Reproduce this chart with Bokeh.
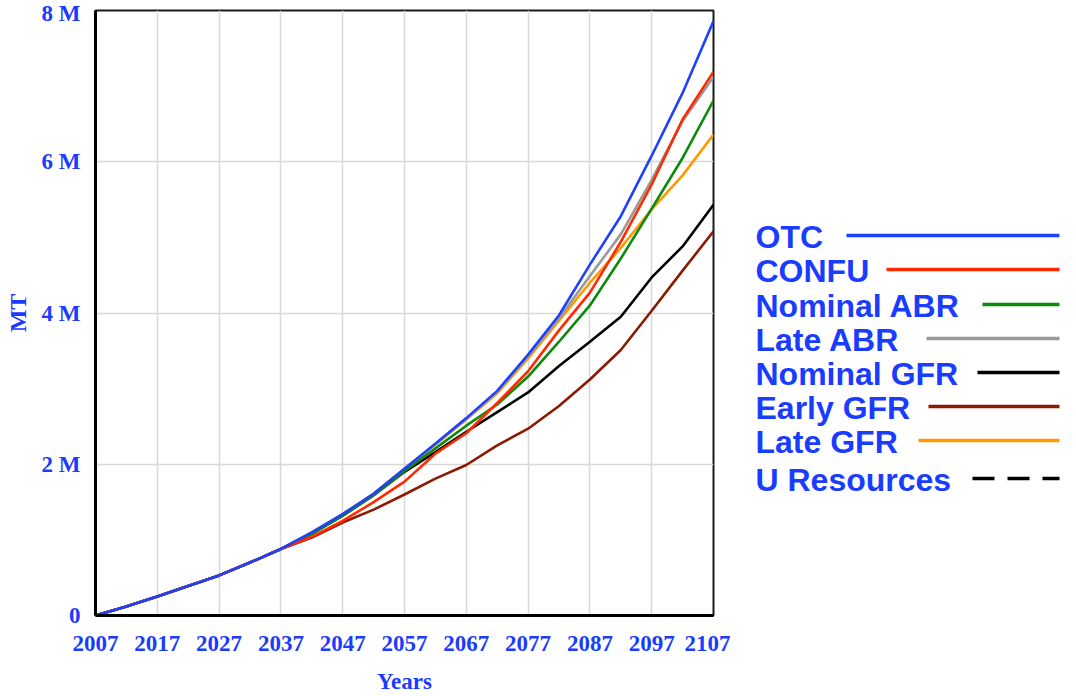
from bokeh.plotting import figure
from bokeh.layouts import row
from bokeh.models import Range1d, FixedTicker, ColumnDataSource
from bokeh.core.properties import value
from bokeh.embed import file_html
from bokeh.resources import INLINE

# Simulation years (5-year sampling)
years = [2007, 2012, 2017, 2022, 2027, 2032, 2037, 2042, 2047, 2052, 2057,
         2062, 2067, 2072, 2077, 2082, 2087, 2092, 2097, 2102, 2107]

# Cumulative quantities, millions of MT
otc = [0, 0.12, 0.25, 0.39, 0.53, 0.70, 0.88, 1.10, 1.34, 1.61, 1.94,
       2.27, 2.61, 2.97, 3.45, 3.97, 4.64, 5.28, 6.08, 6.91, 7.86]
confu = [0, 0.12, 0.25, 0.39, 0.53, 0.70, 0.88, 1.04, 1.25, 1.50, 1.77,
         2.14, 2.41, 2.81, 3.23, 3.77, 4.27, 4.94, 5.70, 6.56, 7.19]
nominal_abr = [0, 0.12, 0.25, 0.39, 0.53, 0.70, 0.88, 1.08, 1.32, 1.59, 1.91,
               2.21, 2.51, 2.79, 3.16, 3.62, 4.10, 4.72, 5.38, 6.05, 6.81]
late_abr = [0, 0.12, 0.25, 0.39, 0.53, 0.70, 0.88, 1.10, 1.34, 1.61, 1.94,
            2.27, 2.60, 2.96, 3.43, 3.93, 4.49, 5.04, 5.76, 6.54, 7.12]
nominal_gfr = [0, 0.12, 0.25, 0.39, 0.53, 0.70, 0.88, 1.08, 1.32, 1.59, 1.90,
               2.16, 2.43, 2.69, 2.95, 3.30, 3.62, 3.95, 4.47, 4.88, 5.43]
early_gfr = [0, 0.12, 0.25, 0.39, 0.53, 0.70, 0.88, 1.03, 1.23, 1.40, 1.60,
             1.81, 1.99, 2.25, 2.47, 2.77, 3.12, 3.51, 4.03, 4.56, 5.08]
late_gfr = [0, 0.12, 0.25, 0.39, 0.53, 0.70, 0.88, 1.09, 1.34, 1.61, 1.94,
            2.26, 2.59, 2.94, 3.40, 3.90, 4.40, 4.86, 5.37, 5.82, 6.36]

x_ticks = [2007, 2017, 2027, 2037, 2047, 2057, 2067, 2077, 2087, 2097, 2107]
y_ticks = [0, 2, 4, 6, 8]
y_tick_labels = ["0", "2 M", "4 M", "6 M", "8 M"]

series_names = ["OTC", "CONFU", "Nominal ABR", "Late ABR", "Nominal GFR",
                "Early GFR", "Late GFR", "U Resources"]
series_colors = ["#1f40ff", "#ff2a00", "#0b8a0b", "#9a9a9a", "#000000",
                 "#8b1a05", "#ff9900", "#000000"]
series_values = [otc, confu, nominal_abr, late_abr, nominal_gfr,
                 early_gfr, late_gfr, None]

TEXT_BLUE = "#1a3cff"
SERIF = "Liberation Serif"
SANS = "Liberation Sans"

FRAME_TOP = 10
FRAME_BOTTOM = 615

p = figure(width=730, height=696, output_backend="svg", toolbar_location=None,
           x_range=Range1d(2007, 2107), y_range=Range1d(0, 8),
           min_border_left=95, min_border_right=17, min_border_top=FRAME_TOP,
           min_border_bottom=696 - FRAME_BOTTOM)
p.background_fill_color = "white"
p.border_fill_color = "white"
p.outline_line_color = "#1a1a1a"
p.outline_line_width = 2

p.xaxis.ticker = FixedTicker(ticks=x_ticks)
p.yaxis.ticker = FixedTicker(ticks=y_ticks)
p.yaxis.major_label_overrides = {t: lbl for t, lbl in zip(y_ticks, y_tick_labels)}

for ax in (p.xaxis, p.yaxis):
    ax.axis_line_color = "black"
    ax.axis_line_width = 3
    ax.major_tick_line_color = None
    ax.minor_tick_line_color = None
    ax.major_tick_out = 0
    ax.major_tick_in = 0
    ax.major_label_text_font = SERIF
    ax.major_label_text_font_style = "bold"
    ax.major_label_text_font_size = "23px"
    ax.major_label_text_color = TEXT_BLUE
    ax.axis_label_text_font = SERIF
    ax.axis_label_text_font_style = "bold"
    ax.axis_label_text_color = TEXT_BLUE

p.xaxis.axis_label = "Years"
p.xaxis.axis_label_text_font_size = "23px"
p.xaxis.major_label_standoff = 20
p.xaxis.axis_label_standoff = 15

p.yaxis.axis_label = "MT"
p.yaxis.axis_label_text_font_size = "24px"
p.yaxis.major_label_standoff = 15
p.yaxis.axis_label_standoff = 8

p.xgrid.grid_line_color = "#d8d8d8"
p.ygrid.grid_line_color = "#d8d8d8"
p.xgrid.grid_line_width = 1.5
p.ygrid.grid_line_width = 1.5

# draw so that OTC ends up on top
draw_order = [6, 5, 4, 3, 2, 1, 0]
for i in draw_order:
    src = ColumnDataSource(dict(x=years, y=series_values[i]))
    p.line("x", "y", source=src, line_color=series_colors[i], line_width=2.6)

# Legend panel: label text followed by a line sample.
# The row aligns this panel's frame with the chart frame, so its y range
# is set to page pixel rows between the frame top and bottom.
leg = figure(width=346, height=696, output_backend="svg", toolbar_location=None,
             x_range=Range1d(730, 1076), y_range=Range1d(FRAME_BOTTOM, FRAME_TOP),
             min_border_left=0, min_border_right=0,
             min_border_top=FRAME_TOP, min_border_bottom=696 - FRAME_BOTTOM)
leg.axis.visible = False
leg.grid.visible = False
leg.outline_line_color = None
leg.background_fill_color = "white"
leg.border_fill_color = "white"

row_y = [236, 270, 305, 339, 373, 407, 441, 479]
sample_start = [846, 886, 982, 926, 977, 928, 918, 972]
sample_end = 1059

leg.text(x=[755] * len(series_names), y=row_y, text=series_names,
         text_font=value(SANS), text_font_style="bold",
         text_font_size="32px", text_color=TEXT_BLUE,
         text_baseline="middle", text_align="left")

for name, color, y0, x0 in zip(series_names, series_colors, row_y, sample_start):
    dash = "22 13" if name == "U Resources" else "solid"
    leg.segment(x0=[x0], y0=[y0 - 1], x1=[sample_end], y1=[y0 - 1],
                line_color=color, line_width=3.5, line_dash=dash)

layout = row(p, leg)
open("out.html", "w").write(file_html(layout, INLINE))
